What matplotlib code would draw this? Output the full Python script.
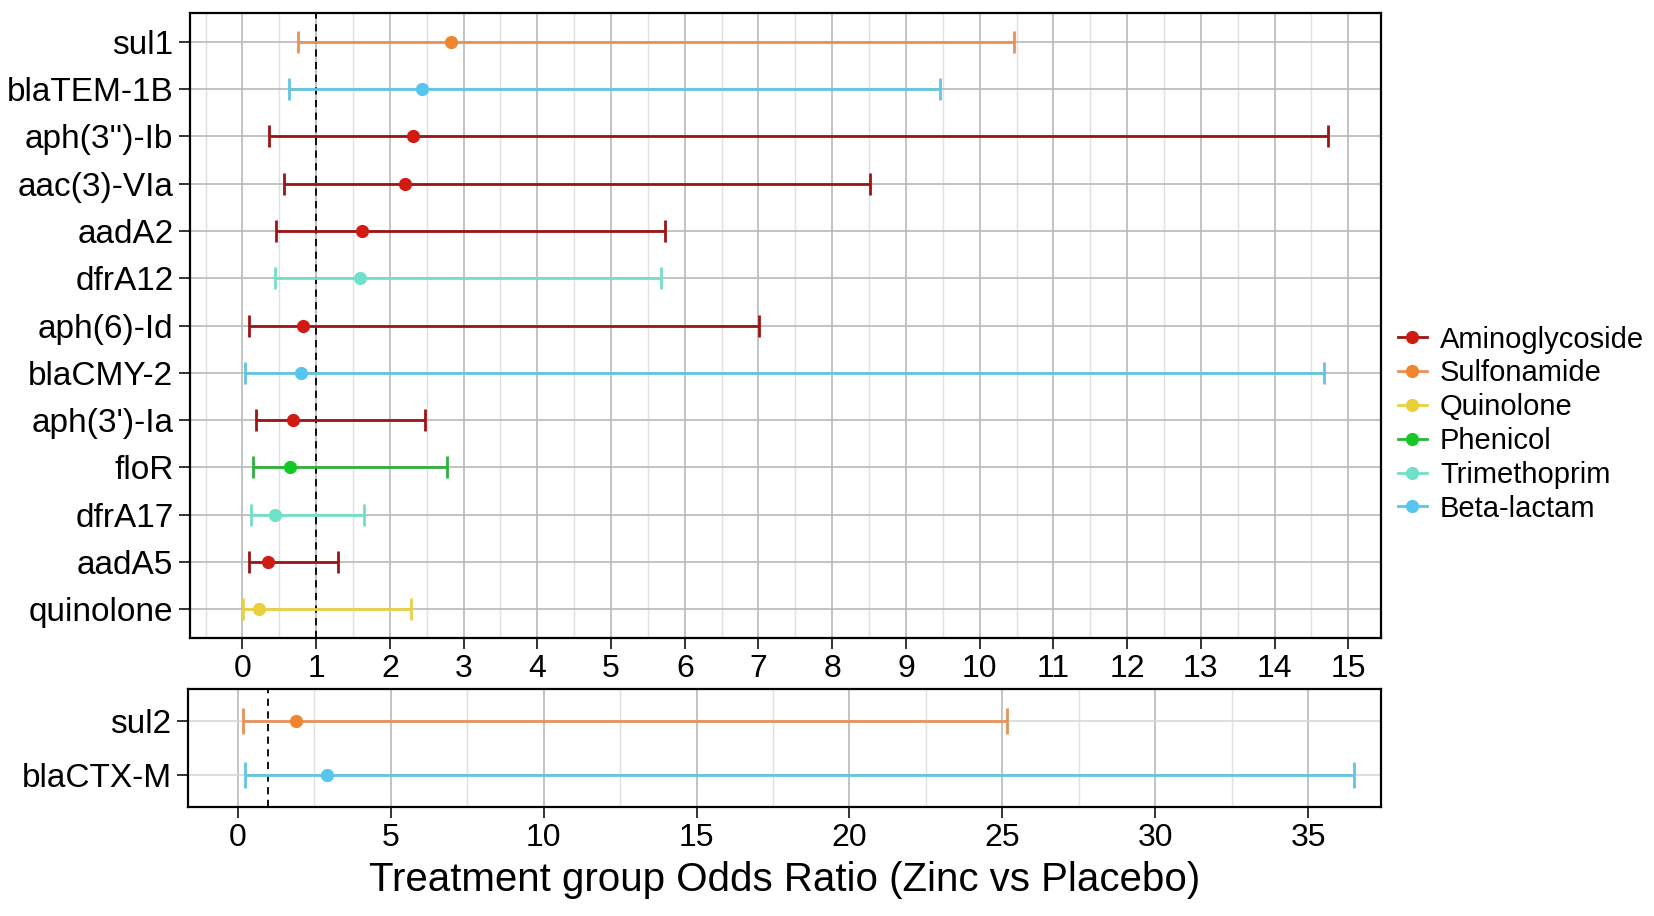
import matplotlib
matplotlib.use("Agg")
import matplotlib.pyplot as plt
from matplotlib.lines import Line2D
from matplotlib.ticker import MultipleLocator

plt.rcParams["font.family"] = ["Liberation Sans", "DejaVu Sans"]

# top panel, listed top to bottom
genes = ["sul1", "blaTEM-1B", "aph(3'')-Ib", "aac(3)-VIa", "aadA2", "dfrA12",
         "aph(6)-Id", "blaCMY-2", "aph(3')-Ia", "floR", "dfrA17", "aadA5", "quinolone"]
gene_class = ["Sulfonamide", "Beta-lactam", "Aminoglycoside", "Aminoglycoside",
              "Aminoglycoside", "Trimethoprim", "Aminoglycoside", "Beta-lactam",
              "Aminoglycoside", "Phenicol", "Trimethoprim", "Aminoglycoside", "Quinolone"]
odds = [2.83, 2.43, 2.32, 2.21, 1.62, 1.60, 0.82, 0.79, 0.68, 0.64, 0.44, 0.35, 0.23]
ci_low = [0.76, 0.63, 0.36, 0.57, 0.45, 0.44, 0.09, 0.03, 0.18, 0.15, 0.12, 0.09, 0.01]
ci_high = [10.47, 9.46, 14.73, 8.51, 5.73, 5.68, 7.01, 14.67, 2.48, 2.78, 1.65, 1.30, 2.29]

# bottom panel (wide intervals)
genes2 = ["sul2", "blaCTX-M"]
gene_class2 = ["Sulfonamide", "Beta-lactam"]
odds2 = [1.89, 2.93]
ci_low2 = [0.16, 0.25]
ci_high2 = [25.14, 36.5]

classes = ["Aminoglycoside", "Sulfonamide", "Quinolone", "Phenicol",
           "Trimethoprim", "Beta-lactam"]
point_col = {"Aminoglycoside": "#d11a12", "Sulfonamide": "#f0852f",
             "Quinolone": "#e9d03a", "Phenicol": "#14c825",
             "Trimethoprim": "#6fe0ca", "Beta-lactam": "#55c6ee"}
line_col = {"Aminoglycoside": "#9c1414", "Sulfonamide": "#e8925a",
            "Quinolone": "#e8d048", "Phenicol": "#2fb13c",
            "Trimethoprim": "#72e0c8", "Beta-lactam": "#63c3e2"}


def draw_panel(ax, names, cls, est, lo, hi, capsize):
    for i in range(len(names)):
        c = cls[i]
        ax.errorbar(est[i], i, xerr=[[est[i] - lo[i]], [hi[i] - est[i]]],
                    fmt="o", color=point_col[c], ecolor=line_col[c],
                    markersize=8.5, elinewidth=2.0, capsize=capsize,
                    capthick=2.0, zorder=3)
    ax.axvline(1, color="black", lw=1.3, ls=(0, (4, 3)), zorder=2)
    ax.set_yticks(range(len(names)))
    ax.set_yticklabels(names)
    ax.set_ylim(len(names) - 0.4, -0.6)
    ax.grid(True, which="major", color="#b9b9b9", lw=1.2, zorder=0)
    ax.grid(True, which="minor", axis="x", color="#e0e0e0", lw=1.0, zorder=0)
    ax.set_axisbelow(True)
    for s in ax.spines.values():
        s.set_linewidth(1.6)
    ax.tick_params(axis="y", which="major", labelsize=24, length=8,
                   width=1.4, color="#333333", pad=4)
    ax.tick_params(axis="x", which="major", labelsize=23, length=8,
                   width=1.4, color="#333333")
    ax.tick_params(axis="x", which="minor", length=0)


fig = plt.figure(figsize=(16.54, 9.16), dpi=100)
ax1 = fig.add_axes([0.1149, 0.3038, 0.7199, 0.6817])
ax2 = fig.add_axes([0.1138, 0.1195, 0.721, 0.128])

draw_panel(ax1, genes, gene_class, odds, ci_low, ci_high, 7.8)
ax1.set_xlim(-0.71, 15.44)
ax1.xaxis.set_major_locator(MultipleLocator(1))
ax1.xaxis.set_minor_locator(MultipleLocator(0.5))

draw_panel(ax2, genes2, gene_class2, odds2, ci_low2, ci_high2, 9.2)
ax2.set_xlim(-1.62, 37.37)
ax2.xaxis.set_major_locator(MultipleLocator(5))
ax2.xaxis.set_minor_locator(MultipleLocator(2.5))
for gl in ax2.get_ygridlines():
    gl.set_color("#d8d8d8")
ax2.set_xlabel("Treatment group Odds Ratio (Zinc vs Placebo)", fontsize=29,
               labelpad=6)

handles = [Line2D([0], [0], color=line_col[c], lw=2.0, marker="o",
                  markersize=8.5, markerfacecolor=point_col[c],
                  markeredgecolor=point_col[c]) for c in classes]
fig.legend(handles, classes, loc="center left", bbox_to_anchor=(0.845, 0.537),
           frameon=False, fontsize=21, handlelength=1.0, handletextpad=0.45,
           labelspacing=0.2, borderpad=0, borderaxespad=0)

fig.savefig("out.png", dpi=100)
